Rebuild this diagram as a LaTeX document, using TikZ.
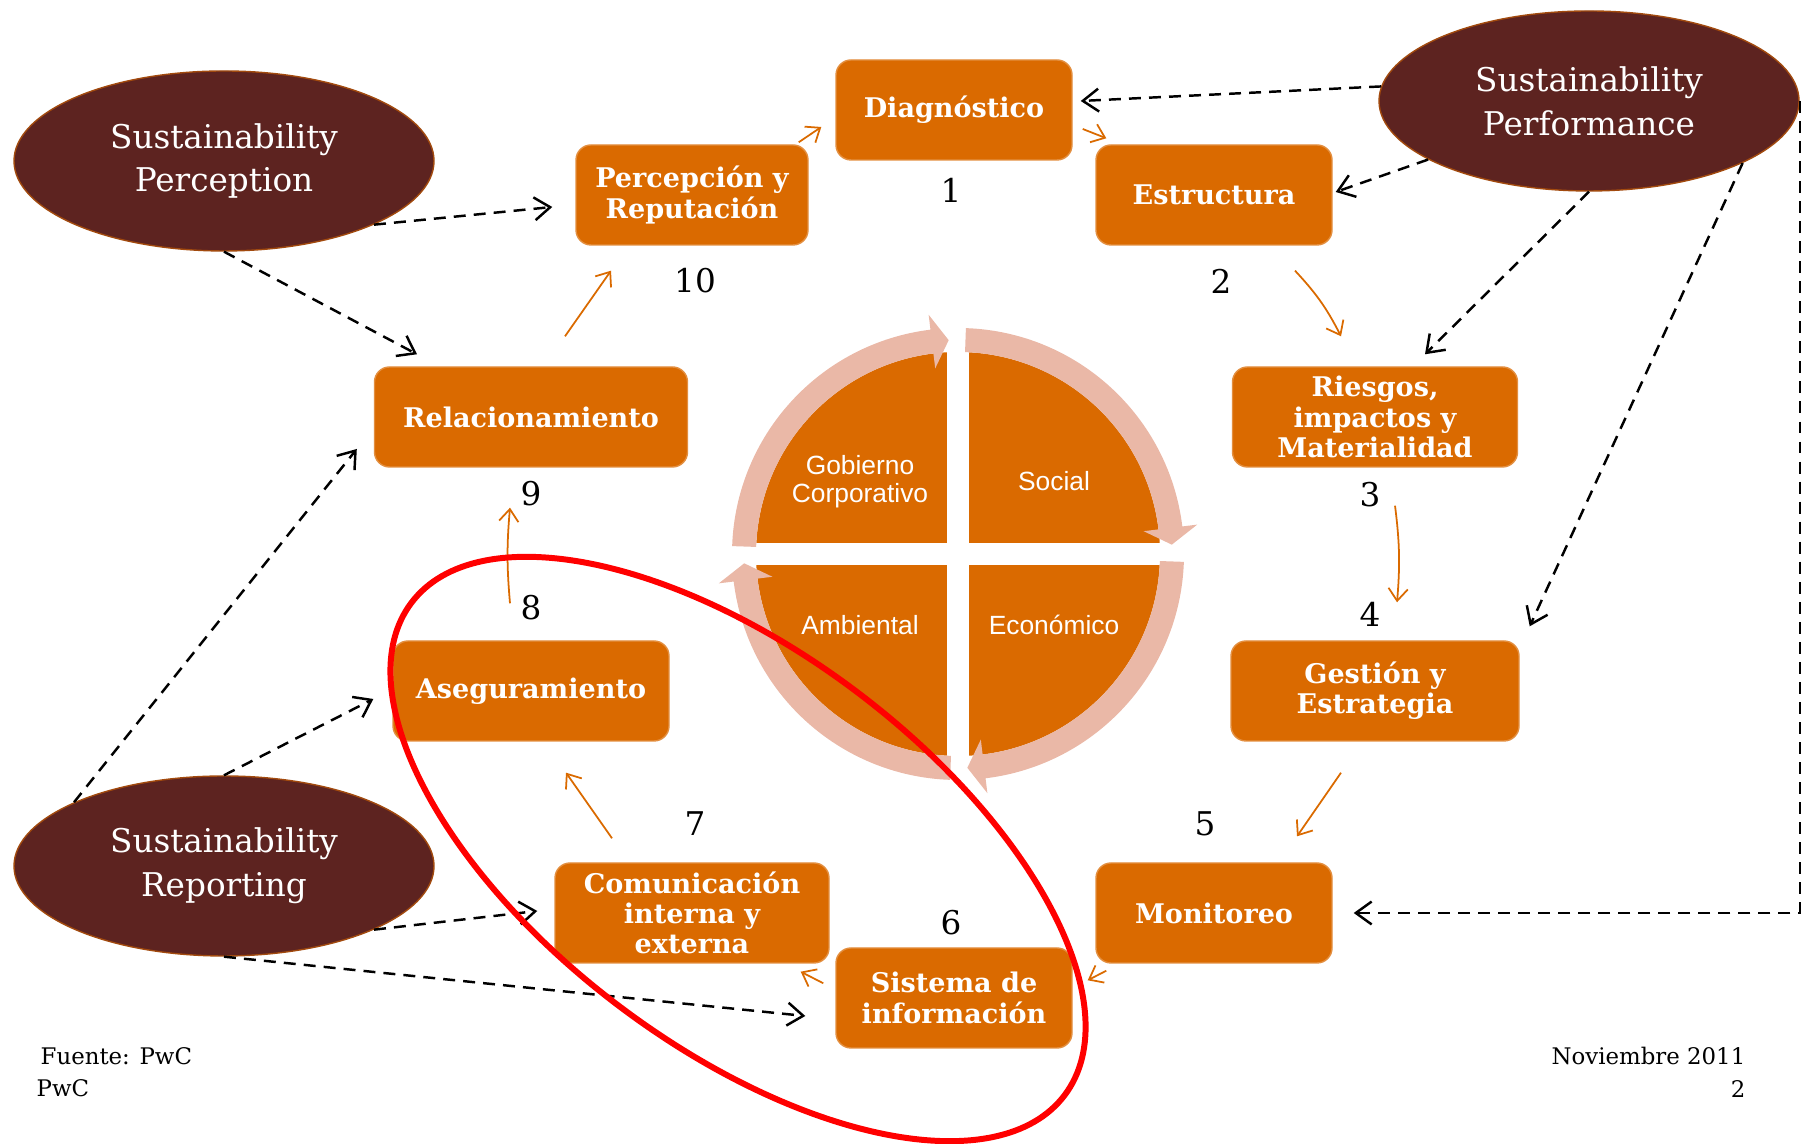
\documentclass[tikz,border=0pt]{standalone}
\usepackage{fontspec}
\setmainfont{DejaVu Serif}
\setsansfont{Liberation Sans}
\usetikzlibrary{shapes.geometric,arrows.meta}
\definecolor{boxorange}{RGB}{218,106,0}
\definecolor{ellbrown}{RGB}{93,35,32}
\definecolor{ringpink}{RGB}{234,184,167}

\begin{document}
\begin{tikzpicture}[
	stage/.style={rectangle, rounded corners=0.15cm, fill=boxorange, draw=boxorange!75!white, line width=0.4pt, text=white, align=center, minimum height=1cm, inner sep=1pt, font=\bfseries\fontsize{7.7}{8.6}\selectfont},
	area/.style={ellipse, fill=ellbrown, draw=boxorange!55!ellbrown, line width=0.4pt, text=white, align=center, minimum width=4.2cm, minimum height=1.8cm, inner sep=0pt, font=\fontsize{9.3}{12.5}\selectfont},
	num/.style={inner sep=0pt, font=\fontsize{9.3}{11}\selectfont},
	quad/.style={text=white, align=center, inner sep=0pt, font=\sffamily\fontsize{7.5}{8}\selectfont},
	foot/.style={inner sep=0pt, font=\fontsize{6.5}{8}\selectfont},
	flow/.style={boxorange, line width=0.5pt, -{Straight Barb[length=3.5pt,width=5.5pt]}},
	link/.style={dash pattern=on 3.4pt off 2.3pt, line width=0.7pt, -{Straight Barb[length=4.5pt,width=6.5pt]}}
]
	\useasboundingbox (0,0) rectangle (18.05,11.44);
	\coordinate (ctr) at (9.58,5.90);
	\begin{scope}[shift={(ctr)}]
		\fill[boxorange] (0,0) circle (2.02);
		\fill[white] (-2.1,-0.11) rectangle (2.1,0.11);
		\fill[white] (-0.11,-2.1) rectangle (0.11,2.1);
		\foreach \a in {178,88,-2,-92}
			\fill[ringpink] (\a:2.26) arc[start angle=\a, end angle=\a-81, radius=2.26] -- ({\a-81}:2.41) -- ({\a-85.5}:2.14) -- ({\a-81}:1.87) -- ({\a-81}:2.02) arc[start angle=\a-81, end angle=\a, radius=2.02] -- cycle;
	\end{scope}
	\node[quad] (q1) at (8.60,6.62) {Gobierno\\Corporativo};
	\node[quad] (q2) at (10.54,6.63) {Social};
	\node[quad] (q3) at (8.60,5.19) {Ambiental};
	\node[quad] (q4) at (10.54,5.19) {Económico};

	\node[stage, minimum width=2.36cm] (diag) at (9.54,10.34) {Diagnóstico};
	\node[stage, minimum width=2.32cm] (per) at (6.92,9.49) {Percepción y\\Reputación};
	\node[stage, minimum width=2.36cm] (est) at (12.14,9.49) {Estructura};
	\node[stage, minimum width=3.13cm] (rel) at (5.31,7.27) {Relacionamiento};
	\node[stage, minimum width=2.85cm] (rie) at (13.75,7.27) {Riesgos,\\impactos y\\Materialidad};
	\node[stage, minimum width=2.76cm] (ase) at (5.31,4.53) {Aseguramiento};
	\node[stage, minimum width=2.88cm] (ges) at (13.75,4.53) {Gestión y\\Estrategia};
	\node[stage, minimum width=2.74cm] (com) at (6.92,2.31) {Comunicación\\interna y\\externa};
	\node[stage, minimum width=2.36cm] (mon) at (12.14,2.31) {Monitoreo};
	\node[stage, minimum width=2.36cm] (sis) at (9.54,1.46) {Sistema de\\información};

	\node[num] (n1) at (9.51,9.54) {1};
	\node[num] (n2) at (12.21,8.63) {2};
	\node[num] (n3) at (13.70,6.49) {3};
	\node[num] (n4) at (13.70,5.30) {4};
	\node[num] (n5) at (12.05,3.20) {5};
	\node[num] (n6) at (9.51,2.21) {6};
	\node[num] (n7) at (6.95,3.20) {7};
	\node[num] (n8) at (5.31,5.36) {8};
	\node[num] (n9) at (5.31,6.50) {9};
	\node[num] (n10) at (6.95,8.63) {10};

	\node[area] (sp) at (2.24,9.83) {Sustainability\\Perception};
	\node[area] (spf) at (15.89,10.43) {Sustainability\\Performance};
	\node[area] (sr) at (2.24,2.78) {Sustainability\\Reporting};

	\draw[flow] ([shift={(-0.10,0.02)}]per.north east) -- ([shift={(-0.14,-0.17)}]diag.west);
	\draw[flow] ([shift={(0.10,-0.19)}]diag.east) -- ([shift={(0.11,0.06)}]est.north west);
	\draw[flow] ([shift={(0.81,-0.25)}]est.south) to[bend left=8] ([shift={(-0.34,0.30)}]rie.north);
	\draw[flow] ([shift={(0.20,-0.38)}]rie.south) to[bend left=6] ([shift={(0.22,0.38)}]ges.north);
	\draw[flow] ([shift={(-0.34,-0.31)}]ges.south) -- ([shift={(0.83,0.26)}]mon.north);
	\draw[flow] ([shift={(0.11,-0.07)}]mon.south west) -- ([shift={(0.15,-0.33)}]sis.north east);
	\draw[flow] ([shift={(-0.12,-0.36)}]sis.north west) -- ([shift={(-0.29,-0.08)}]com.south east);
	\draw[flow] ([shift={(-0.80,0.24)}]com.north) -- ([shift={(0.35,-0.31)}]ase.south);
	\draw[flow] ([shift={(-0.21,0.37)}]ase.north) to[bend left=5] ([shift={(-0.21,-0.40)}]rel.south);
	\draw[flow] ([shift={(0.34,0.30)}]rel.north) -- ([shift={(-0.81,-0.25)}]per.south);

	\draw[link] (sp.-23) -- ([shift={(-0.23,-0.12)}]per.west);
	\draw[link] (sp.south) -- ([shift={(-1.14,0.12)}]rel.north);
	\draw[link] (spf.176) -- ([shift={(0.08,0.09)}]diag.east);
	\draw[link] (spf.200) -- ([shift={(0.03,0.03)}]est.east);
	\draw[link] (spf.south) -- ([shift={(0.50,0.12)}]rie.north);
	\draw[link] (spf.-22) -- ([shift={(0.10,0.14)}]ges.north east);
	\draw[link] (spf.east) |- ([xshift=0.21cm]mon.east);
	\draw[link] (sr.157) -- ([shift={(-0.17,-0.32)}]rel.west);
	\draw[link] (sr.north) -- ([shift={(-0.19,-0.08)}]ase.west);
	\draw[link] (sr.-23) -- ([shift={(-0.17,0.02)}]com.west);
	\draw[link] (sr.south) -- ([shift={(-0.30,-0.18)}]sis.west);

	\draw[red, line width=1.7pt, rotate around={-37:(7.38,2.95)}] (7.38,2.95) ellipse (4.09 and 1.97);

	\node[foot, anchor=west] (src) at (0.40,0.88) {Fuente: PwC};
	\node[foot, anchor=west] (firm) at (0.36,0.56) {PwC};
	\node[foot, anchor=east] (date) at (17.46,0.88) {Noviembre 2011};
	\node[foot, anchor=east] (page) at (17.46,0.55) {2};
\end{tikzpicture}
\end{document}
